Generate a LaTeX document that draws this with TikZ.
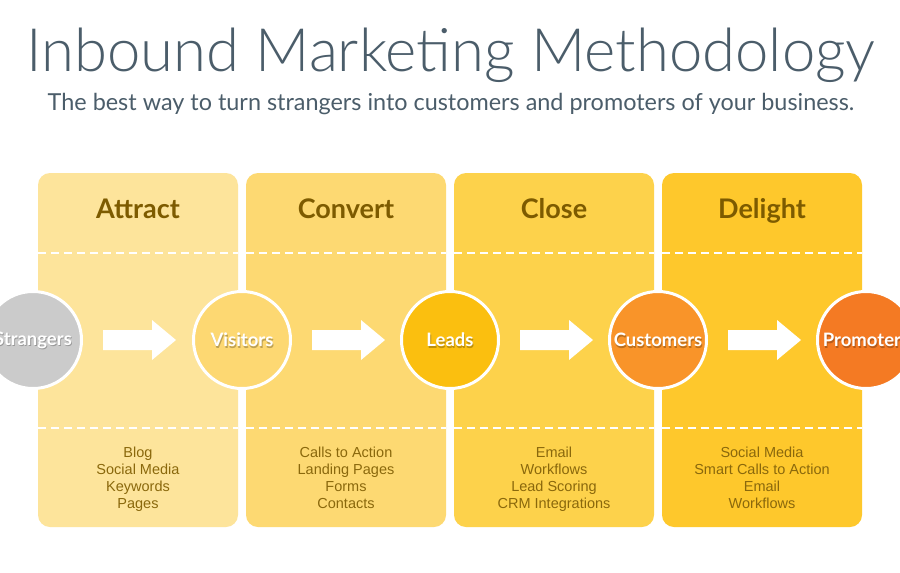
\documentclass[tikz,border=0pt]{standalone}
\usepackage{fontspec}
\setmainfont{Lato}
\newfontfamily\titlefont{Lato Light}
\newfontfamily\listfont{Liberation Sans}
\usetikzlibrary{calc}
\definecolor{titlecol}{HTML}{4B5D6A}
\definecolor{headcol}{HTML}{7D5B00}
\definecolor{listcol}{HTML}{8A680C}
\definecolor{colA}{HTML}{FDE49B}
\definecolor{colB}{HTML}{FDD972}
\definecolor{colC}{HTML}{FDD24B}
\definecolor{colD}{HTML}{FEC82C}
\definecolor{cStr}{HTML}{CBCBCB}
\definecolor{cVis}{HTML}{FDD872}
\definecolor{cLea}{HTML}{FBBF0F}
\definecolor{cCus}{HTML}{F99429}
\definecolor{cPro}{HTML}{F47A23}
\tikzset{
  colbox/.style={rectangle, rounded corners=12pt, minimum width=200pt, minimum height=354pt, inner sep=0pt, draw=none},
  dashline/.style={draw=white, line width=1.6pt, dash pattern=on 8pt off 5pt},
  header/.style={font=\fontsize{27}{30}\selectfont\bfseries, text=headcol, inner sep=0pt, anchor=base},
  listitem/.style={font=\listfont\fontsize{14.5}{17}\selectfont, text=listcol, inner sep=0pt, anchor=base},
  stage/.style={circle, draw=white, line width=3pt, minimum size=97pt, inner sep=0pt},
  stagetext/.style={font=\fontsize{18.5}{21}\selectfont\bfseries, text=white, inner sep=0pt},
  stageshadow/.style={font=\fontsize{18.5}{21}\selectfont\bfseries, text=black, text opacity=0.25, inner sep=0pt},
  blockarrow/.style={fill=white, draw=none}
}
\begin{document}
\begin{tikzpicture}[x=1pt,y=-1pt]
\useasboundingbox (0,0) rectangle (900,573);
\clip (0,0) rectangle (900,573);
\fill[white] (0,0) rectangle (900,573);
% title
\node[font=\titlefont\fontsize{59.8}{62}\selectfont, text=titlecol, inner sep=0pt, anchor=base] (title) at (451,71) {Inbound Marketing Methodology};
\node[font=\fontsize{23.4}{25}\selectfont, text=titlecol, inner sep=0pt, anchor=base] (subtitle) at (451,110) {The best way to turn strangers into customers and promoters of your business.};
% columns
\foreach \n/\x/\c/\h in {A/138/colA/Attract, B/346/colB/Convert, C/554/colC/Close, D/762/colD/Delight}{
  \node[colbox, fill=\c] (col\n) at (\x,350) {};
  \draw[dashline] ($(col\n.north west)+(0,80)$) -- ($(col\n.north east)+(0,80)$);
  \draw[dashline] ($(col\n.north west)+(0,255)$) -- ($(col\n.north east)+(0,255)$);
  \node[header] (head\n) at (\x,218) {\h};
}
% lists
\foreach \n/\x/\a/\b/\c/\d in {A/138/Blog/Social Media/Keywords/Pages,
  B/346/Calls to Action/Landing Pages/Forms/Contacts,
  C/554/Email/Workflows/Lead Scoring/CRM Integrations,
  D/762/Social Media/Smart Calls to Action/Email/Workflows}{
  \node[listitem] (list\n1) at (\x,457) {\a};
  \node[listitem] (list\n2) at (\x,474) {\b};
  \node[listitem] (list\n3) at (\x,491) {\c};
  \node[listitem] (list\n4) at (\x,508) {\d};
}
% stages
\foreach \n/\x/\c/\t in {str/33/cStr/Strangers, vis/242/cVis/Visitors, lea/450/cLea/Leads, cus/658/cCus/Customers, pro/866/cPro/Promoters}{
  \node[stage, fill=\c] (\n) at (\x,340) {};
  \node[stageshadow] (\n-sh) at ($(\n.center)+(0.8,1.5)$) {\t};
  \node[stagetext] (\n-t) at (\n.center) {\t};
}
% arrows
\foreach \a/\b in {str/vis, vis/lea, lea/cus, cus/pro}{
  \fill[blockarrow] ($(\a.center)+(70,-10)$) -- ++(49,0) -- ++(0,-10) -- ++(24,20) -- ++(-24,20) -- ++(0,-10) -- ++(-49,0) -- cycle;
}
\end{tikzpicture}
\end{document}
